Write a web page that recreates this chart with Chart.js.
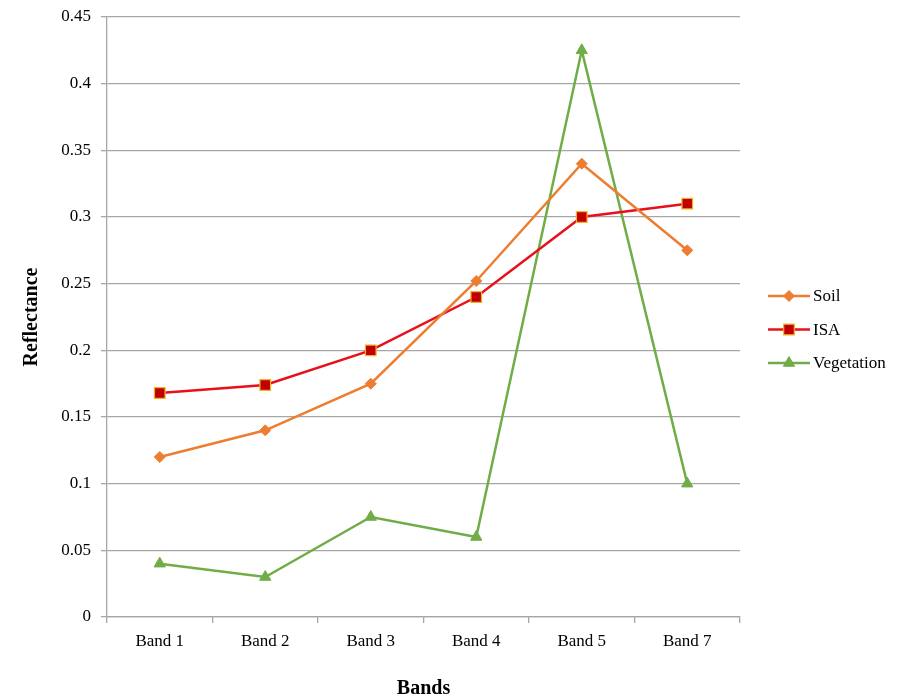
<!DOCTYPE html>
<html>
<head>
<meta charset="utf-8">
<script src="https://cdn.jsdelivr.net/npm/chart.js@4.4.1/dist/chart.umd.min.js"></script>
<style>
  html, body { margin: 0; padding: 0; background: #ffffff; }
  #wrap { width: 908px; height: 697px; }
</style>
</head>
<body>
<div id="wrap"><canvas id="c" width="908" height="697"></canvas></div>
<script>
// Spectral reflectance per Landsat band
const bands = ['Band 1', 'Band 2', 'Band 3', 'Band 4', 'Band 5', 'Band 7'];
const soil = [0.12, 0.14, 0.175, 0.252, 0.34, 0.275];
const isa = [0.168, 0.174, 0.2, 0.24, 0.3, 0.31];
const vegetation = [0.04, 0.03, 0.075, 0.06, 0.425, 0.1];
const yTicks = [0, 0.05, 0.1, 0.15, 0.2, 0.25, 0.3, 0.35, 0.4, 0.45];

const FONT = '"Liberation Serif", "Times New Roman", serif';

// Legend on the right: a short line with the series marker, then the name
const sideLegend = {
  id: 'sideLegend',
  afterDraw(chart) {
    const ctx = chart.ctx;
    const x0 = 768, x1 = 810, startY = 296, step = 33.5;
    chart.data.datasets.forEach((ds, i) => {
      const y = startY + i * step;
      ctx.save();
      ctx.strokeStyle = ds.borderColor;
      ctx.lineWidth = ds.borderWidth;
      ctx.beginPath();
      ctx.moveTo(x0, y);
      ctx.lineTo(x1, y);
      ctx.stroke();
      ctx.fillStyle = ds.pointBackgroundColor;
      ctx.strokeStyle = ds.pointBorderColor;
      ctx.lineWidth = ds.pointBorderWidth;
      Chart.helpers.drawPoint(ctx, {
        pointStyle: ds.pointStyle,
        radius: ds.pointRadius,
        borderWidth: ds.pointBorderWidth
      }, (x0 + x1) / 2, y);
      ctx.fillStyle = '#000000';
      ctx.font = '17px ' + FONT;
      ctx.textAlign = 'left';
      ctx.textBaseline = 'middle';
      ctx.fillText(ds.label, x1 + 3, y + 1);
      ctx.restore();
    });
  }
};

new Chart(document.getElementById('c'), {
  type: 'line',
  data: {
    labels: bands,
    datasets: [
      {
        label: 'Soil', data: soil,
        borderColor: '#ED7D31', borderWidth: 2.5,
        pointStyle: 'rectRot', pointRadius: 5.5,
        pointBackgroundColor: '#ED7D31', pointBorderColor: '#ED7D31', pointBorderWidth: 1,
        tension: 0
      },
      {
        label: 'ISA', data: isa,
        borderColor: '#E8101A', borderWidth: 2.5,
        pointStyle: 'rect', pointRadius: 7.5,
        pointBackgroundColor: '#C00000', pointBorderColor: '#F2B025', pointBorderWidth: 1.2,
        tension: 0
      },
      {
        label: 'Vegetation', data: vegetation,
        borderColor: '#70AD47', borderWidth: 2.5,
        pointStyle: 'triangle', pointRadius: 6.5,
        pointBackgroundColor: '#70AD47', pointBorderColor: '#70AD47', pointBorderWidth: 1,
        tension: 0
      }
    ]
  },
  options: {
    responsive: false,
    animation: false,
    layout: { padding: { top: 17, right: 168, left: 0, bottom: 0 } },
    plugins: { legend: { display: false }, tooltip: { enabled: false } },
    scales: {
      x: {
        offset: true,
        grid: {
          offset: true, drawOnChartArea: false, drawTicks: true,
          tickLength: 6, color: '#A6A6A6', lineWidth: 1.3
        },
        border: { color: '#A6A6A6', width: 1.3 },
        ticks: { color: '#000000', font: { family: FONT, size: 17 }, padding: 8, maxRotation: 0 },
        title: {
          display: true, text: 'Bands', color: '#000000',
          font: { family: FONT, size: 20, weight: 'bold' }, padding: { top: 25, bottom: -4 }
        },
        afterFit(scale) { scale.height = 80; scale.paddingLeft = 0; scale.paddingRight = 0; }
      },
      y: {
        min: 0, max: 0.45,
        afterBuildTicks(scale) { scale.ticks = yTicks.map(v => ({ value: v })); },
        grid: { color: '#A6A6A6', lineWidth: 1.3, tickLength: 6, drawTicks: true },
        border: { color: '#A6A6A6', width: 1.3 },
        ticks: {
          color: '#000000', font: { family: FONT, size: 17 }, padding: 10,
          callback: v => String(+v.toFixed(2))
        },
        title: {
          display: true, text: 'Reflectance', color: '#000000',
          font: { family: FONT, size: 20, weight: 'bold' }, padding: { top: 20, bottom: 0 }
        },
        afterFit(scale) { scale.width = 107; scale.paddingTop = 0; scale.paddingBottom = 0; }
      }
    }
  },
  plugins: [sideLegend]
});
</script>
</body>
</html>
